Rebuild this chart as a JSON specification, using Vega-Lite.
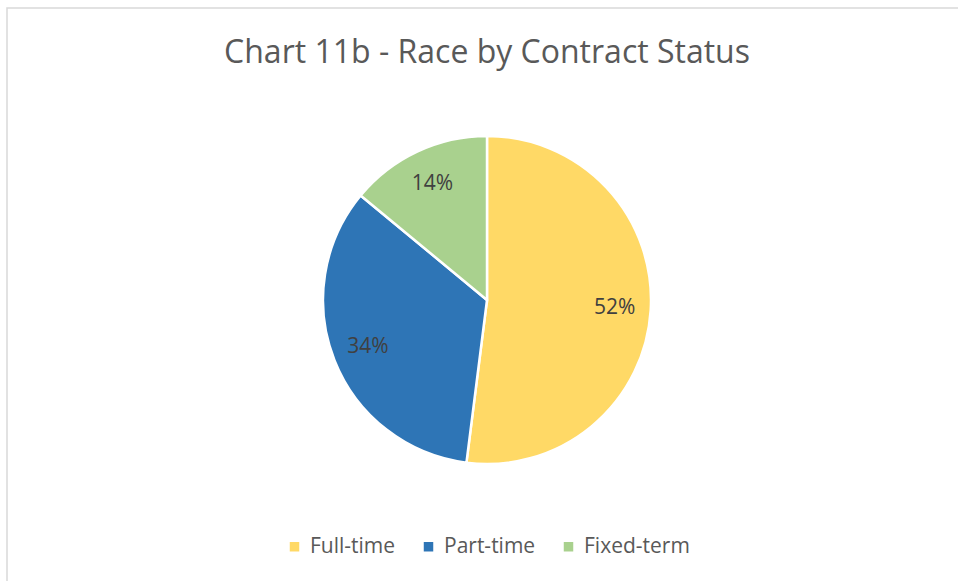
{
  "$schema": "https://vega.github.io/schema/vega-lite/v6.json",
  "width": 960,
  "height": 584,
  "autosize": "none",
  "padding": {"left": 7, "top": 8, "right": 0, "bottom": 0},
  "background": "white",
  "view": {"stroke": "#D9D9D9", "strokeWidth": 1.5},
  "title": {
    "text": "Chart 11b - Race by Contract Status",
    "font": "Open Sans",
    "fontSize": 32,
    "fontWeight": "normal",
    "color": "#595959",
    "anchor": "middle",
    "baseline": "alphabetic",
    "offset": 0,
    "dy": 87
  },
  "data": {
    "values": [
      {"status": "Full-time", "pct": 0.52, "ord": 1},
      {"status": "Part-time", "pct": 0.34, "ord": 2},
      {"status": "Fixed-term", "pct": 0.14, "ord": 3}
    ]
  },
  "encoding": {
    "theta": {"field": "pct", "type": "quantitative", "stack": true},
    "order": {"field": "ord", "type": "quantitative"}
  },
  "layer": [
    {
      "mark": {"type": "arc", "outerRadius": 164, "stroke": "white", "strokeWidth": 2.5},
      "encoding": {
        "color": {
          "field": "status",
          "type": "nominal",
          "scale": {"domain": ["Full-time", "Part-time", "Fixed-term"], "range": ["#FFD966", "#2E75B6", "#A9D18E"]},
          "legend": {
            "orient": "bottom",
            "direction": "horizontal",
            "title": null,
            "symbolType": "square",
            "symbolSize": 90,
            "symbolStrokeWidth": 0,
            "labelFont": "Open Sans",
            "labelFontSize": 21,
            "labelColor": "#595959",
            "labelOffset": 5,
            "columnPadding": 22,
            "offset": -56
          }
        }
      }
    },
    {
      "mark": {"type": "text", "radius": 128, "font": "Open Sans", "fontSize": 21, "fill": "#404040"},
      "encoding": {
        "text": {"field": "pct", "type": "quantitative", "format": ".0%"}
      }
    }
  ],
  "config": {
    "view": {"stroke": "#D9D9D9", "strokeWidth": 1.5},
    "legend": {"layout": {"bottom": {"anchor": "middle"}}}
  }
}
